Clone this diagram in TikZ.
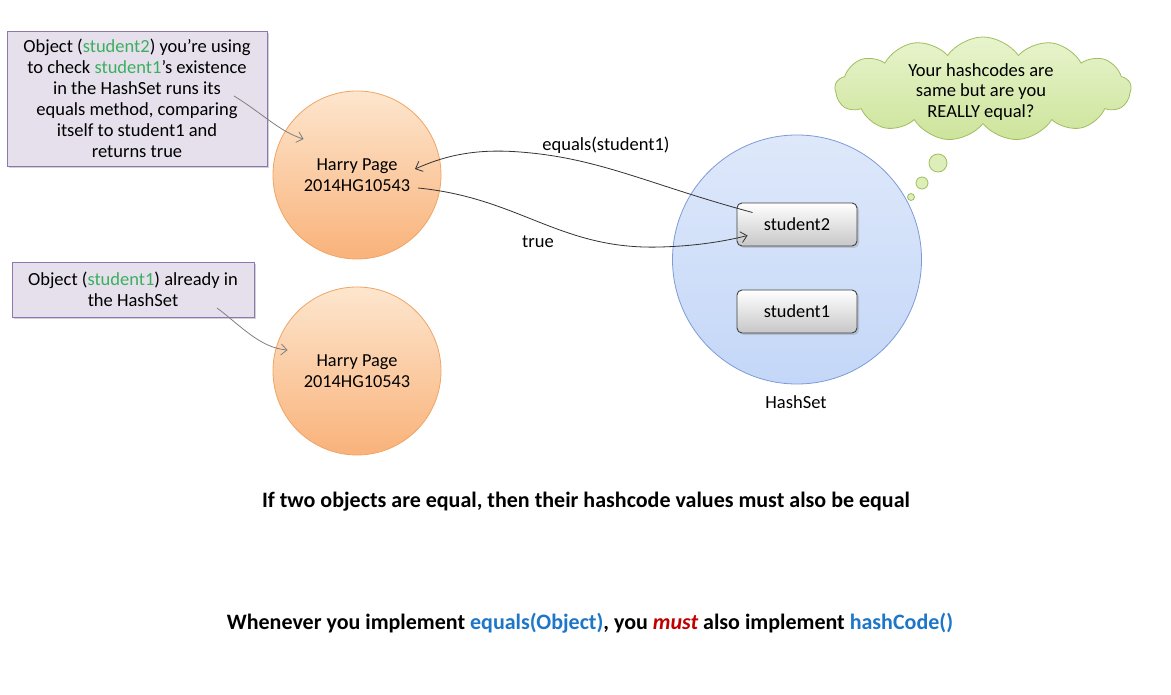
\documentclass[tikz,border=0pt]{standalone}
\usepackage{fontspec}
\setmainfont{Carlito}
\usetikzlibrary{shapes.symbols,shadows,arrows.meta,calc}
\definecolor{boxfill}{RGB}{229,224,236}
\definecolor{boxdraw}{RGB}{140,120,175}
\definecolor{gtext}{RGB}{60,175,95}
\definecolor{btext}{RGB}{30,118,200}
\definecolor{rtext}{RGB}{192,0,0}
\definecolor{orgtop}{RGB}{253,230,206}
\definecolor{orgbot}{RGB}{249,178,122}
\definecolor{orgdraw}{RGB}{240,165,100}
\definecolor{bluetop}{RGB}{222,232,250}
\definecolor{bluebot}{RGB}{196,215,248}
\definecolor{bluedraw}{RGB}{125,155,215}
\definecolor{cloudtop}{RGB}{232,244,205}
\definecolor{cloudbot}{RGB}{205,228,155}
\definecolor{clouddraw}{RGB}{160,190,95}
\tikzset{
  callout/.style={draw=boxdraw, fill=boxfill, line width=0.9pt, align=center,
    font=\fontsize{18.5}{21}\selectfont, inner sep=0pt,
    drop shadow={opacity=0.35, shadow xshift=2pt, shadow yshift=-2pt}},
  person/.style={circle, draw=orgdraw, line width=0.8pt, top color=orgtop, bottom color=orgbot,
    minimum size=168pt, inner sep=0pt, align=center, font=\fontsize{18.3}{21}\selectfont},
  stud/.style={draw=black!75, line width=0.9pt, rounded corners=5pt, top color=white, bottom color=black!22,
    minimum width=120pt, minimum height=43pt, font=\fontsize{18.3}{20}\selectfont,
    drop shadow={opacity=0.3, shadow xshift=2pt, shadow yshift=-2pt}},
  bubble/.style={circle, draw=clouddraw, line width=0.8pt, fill=cloudtop!60!cloudbot, inner sep=0pt},
  lbl/.style={font=\fontsize{18.5}{20}\selectfont},
  conn/.style={draw=black!80, line width=0.8pt, -{Straight Barb[length=6pt,width=11pt]}},
  gconn/.style={draw=black!50, line width=0.8pt, -{Straight Barb[length=6pt,width=11pt]}},
}
\begin{document}
\begin{tikzpicture}[x=1pt,y=-1pt]
\useasboundingbox (0,0) rectangle (1171,695);
\fill[white] (0,0) rectangle (1171,695);

% callout boxes
\node[callout, minimum width=260pt, minimum height=135pt] (c1) at (137,98.5)
  {Object (\textcolor{gtext}{student2}) you’re using\\to check \textcolor{gtext}{student1}’s existence\\in the HashSet runs its\\equals method, comparing\\itself to student1 and\\returns true};
\node[callout, minimum width=242pt, minimum height=55pt] (c2) at (133,289.5)
  {Object (\textcolor{gtext}{student1}) already in\\the HashSet};

% persons
\node[person] (p1) at (357,175) {Harry Page\\2014HG10543};
\node[person] (p2) at (357,371) {Harry Page\\2014HG10543};

% HashSet
\node[circle, draw=bluedraw, line width=0.8pt, top color=bluetop, bottom color=bluebot,
  minimum size=249pt, inner sep=0pt] (hs) at (797,259.5) {};
\node[lbl] (hsl) at (796,402) {HashSet};
\node[stud] (s2) at (797,224.5) {student2};
\node[stud] (s1) at (797,311.5) {student1};

% cloud
\node[cloud, cloud puffs=13, cloud puff arc=110, aspect=2.9, draw=clouddraw, line width=0.8pt,
  top color=cloudtop, bottom color=cloudbot, minimum width=296pt, minimum height=104pt,
  inner sep=0pt] (cl) at (983,89) {};
\node[align=center, font=\fontsize{18.5}{20.5}\selectfont] (clt) at (981,92)
  {Your hashcodes are\\same but are you\\REALLY equal?};
\node[bubble, minimum size=18pt] (b1) at (938,163) {};
\node[bubble, minimum size=12pt] (b2) at (922,183) {};
\node[bubble, minimum size=7pt] (b3) at (911,197) {};

% connectors
\coordinate (eqs) at ($(s2.west)+(16,-12)$);
\coordinate (eqe) at ($(p1.center)+(58,-6)$);
\coordinate (trs) at ($(p1.center)+(61,13)$);
\coordinate (tre) at ($(s2.west)+(11,11)$);
\draw[conn] (eqs) .. controls (650,185) and (600,158) .. (520,152) .. controls (470,148) and (440,158) .. (eqe);
\draw[conn] (trs) .. controls (520,198) and (560,250) .. (660,247) .. controls (700,246) and (730,240) .. (tre);
\node[lbl] (eql) at (606,145) {equals(student1)};
\node[lbl] (trl) at (538,242) {true};

\coordinate (g1s) at (234,96);
\coordinate (g1e) at ($(p1.west)+(31,-36)$);
\draw[gconn] (g1s) .. controls (262,113) and (280,132) .. (g1e);
\coordinate (g2s) at (217,308);
\coordinate (g2e) at ($(p2.west)+(15,-21)$);
\draw[gconn] (g2s) .. controls (240,325) and (260,348) .. (g2e);

% bottom texts
\node[font=\fontsize{22}{26}\selectfont\bfseries] (t1) at (586,502)
  {If two objects are equal, then their hashcode values must also be equal};
\node[font=\fontsize{22}{26}\selectfont\bfseries] (t2) at (590,623)
  {Whenever you implement \textcolor{btext}{equals(Object)}, you \textcolor{rtext}{\itshape must} also implement \textcolor{btext}{hashCode()}};
\end{tikzpicture}
\end{document}
